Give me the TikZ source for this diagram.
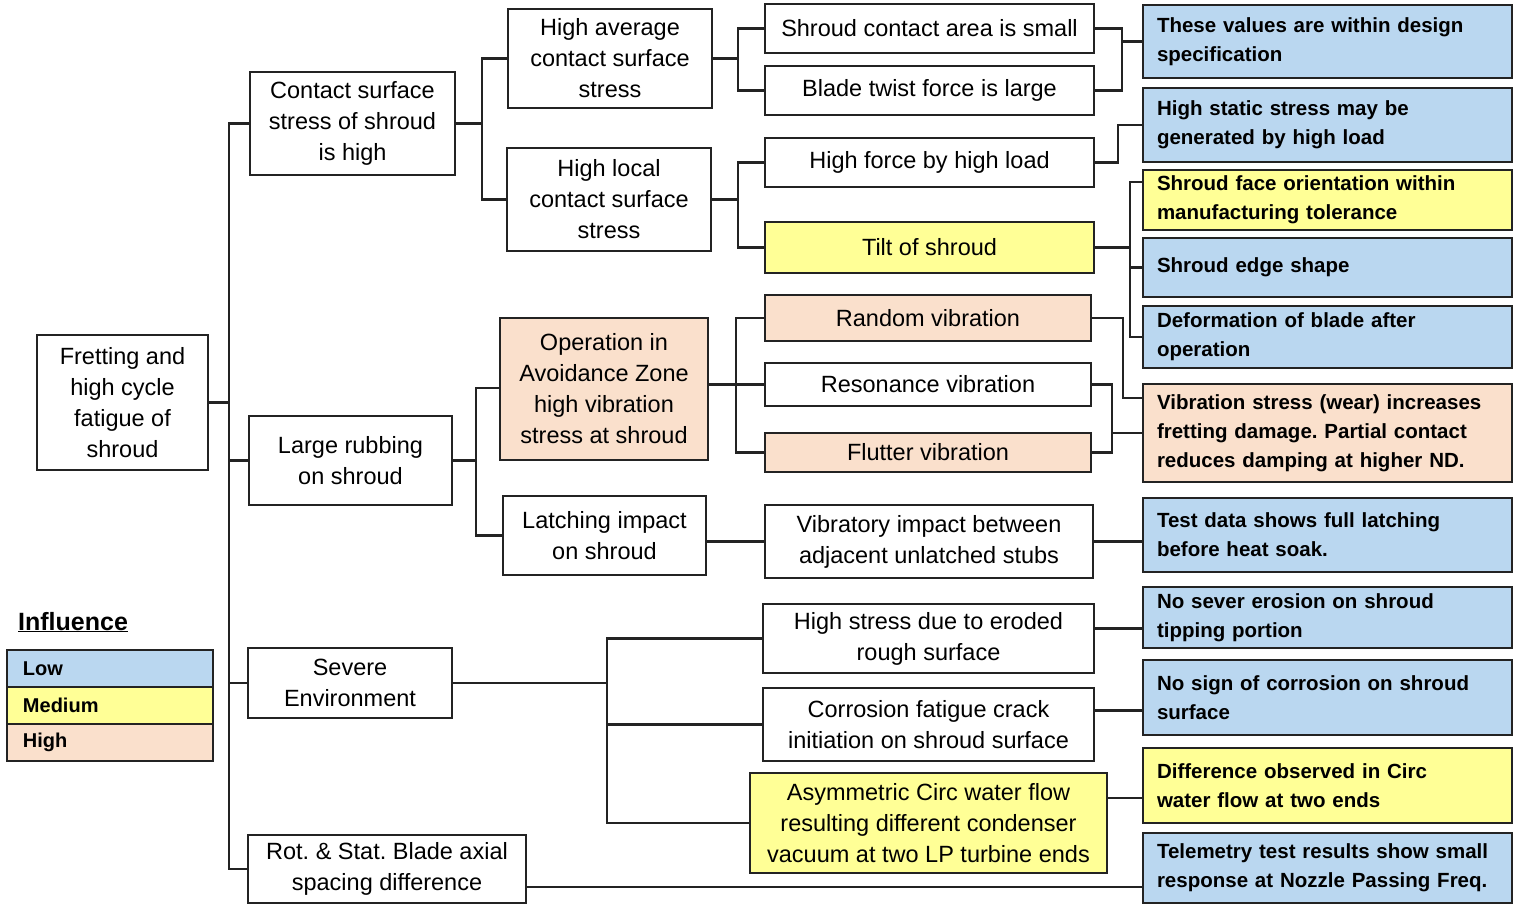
\documentclass[tikz,border=0pt]{standalone}
\usepackage{fontspec}
\setmainfont{Liberation Sans}
\frenchspacing
\definecolor{lowc}{RGB}{186,215,240}
\definecolor{medc}{RGB}{255,255,150}
\definecolor{highc}{RGB}{250,224,204}
\definecolor{linec}{RGB}{35,35,35}
\tikzset{
  box/.style={draw=linec, line width=2.4pt, inner sep=0pt, outer sep=0pt, align=center,
    font=\fontsize{23.5}{31}\selectfont, fill=white},
  rbox/.style={draw=linec, line width=2.4pt, inner xsep=14pt, inner ysep=0pt, outer sep=0pt,
    text width=341pt, align=left, font=\bfseries\fontsize{20.5}{29}\selectfont,
    minimum width=369pt},
  lbox/.style={draw=linec, line width=2.4pt, inner xsep=16pt, inner ysep=0pt, outer sep=0pt,
    text width=174pt, align=left, font=\bfseries\fontsize{20}{24}\selectfont,
    minimum width=206pt, minimum height=37pt},
  conn/.style={draw=linec, line width=2.2pt},
}
\begin{document}
\begin{tikzpicture}[x=1pt, y=-1pt]
\useasboundingbox[fill=white] (0,0) rectangle (1518,905);

% column 1
\node[box, minimum width=171, minimum height=135] (fr) at (122.5,402.5) {Fretting and\\high cycle\\fatigue of\\shroud};

% column 2
\node[box, minimum width=205, minimum height=103] (cs) at (352.5,123.5) {Contact surface\\stress of shroud\\is high};
\node[box, minimum width=203, minimum height=89] (lr) at (350.5,460.5) {Large rubbing\\on shroud};
\node[box, minimum width=204, minimum height=70] (se) at (350,683) {Severe\\Environment};
\node[box, minimum width=278, minimum height=68] (rs) at (387,869) {Rot. \& Stat. Blade axial\\spacing difference};

% column 3
\node[box, minimum width=204, minimum height=99] (ha) at (610,58.5) {High average\\contact surface\\stress};
\node[box, minimum width=204, minimum height=103] (hl) at (609,199.5) {High local\\contact surface\\stress};
\node[box, fill=highc, minimum width=208, minimum height=142] (op) at (604,389) {Operation in\\Avoidance Zone\\high vibration\\stress at shroud};
\node[box, minimum width=203, minimum height=79] (li) at (604.5,535.5) {Latching impact\\on shroud};

% column 4
\node[box, minimum width=329, minimum height=49] (sca) at (929.5,28.5) {Shroud contact area is small};
\node[box, minimum width=329, minimum height=49] (bt) at (929.5,90.5) {Blade twist force is large};
\node[box, minimum width=329, minimum height=49] (hf) at (929.5,162.5) {High force by high load};
\node[box, fill=medc, minimum width=329, minimum height=51] (ti) at (929.5,247.5) {Tilt of shroud};
\node[box, fill=highc, minimum width=326, minimum height=46] (rv) at (928,318) {Random vibration};
\node[box, minimum width=326, minimum height=43] (rsv) at (928,384.5) {Resonance vibration};
\node[box, fill=highc, minimum width=326, minimum height=39] (fv) at (928,452.5) {Flutter vibration};
\node[box, minimum width=328, minimum height=73] (vi) at (929,541.5) {Vibratory impact between\\adjacent unlatched stubs};
\node[box, minimum width=331, minimum height=69] (hs) at (928.5,638.5) {High stress due to eroded\\rough surface};
\node[box, minimum width=331, minimum height=73] (cf) at (928.5,724.5) {Corrosion fatigue crack\\initiation on shroud surface};
\node[box, fill=medc, minimum width=357, minimum height=100] (as) at (928.5,823) {Asymmetric Circ water flow\\resulting different condenser\\vacuum at two LP turbine ends};

% column 5
\node[rbox, fill=lowc, minimum height=73] (c1) at (1327.5,41.5) {These values are within design\\specification};
\node[rbox, fill=lowc, minimum height=74] (c2) at (1327.5,125) {High static stress may be\\generated by high load};
\node[rbox, fill=medc, minimum height=60] (c3) at (1327.5,200) {Shroud face orientation within\\manufacturing tolerance};
\node[rbox, fill=lowc, minimum height=59] (c4) at (1327.5,267.5) {Shroud edge shape};
\node[rbox, fill=lowc, minimum height=62] (c5) at (1327.5,337) {Deformation of blade after\\operation};
\node[rbox, fill=highc, minimum height=98] (c6) at (1327.5,433) {Vibration stress (wear) increases\\fretting damage. Partial contact\\reduces damping at higher ND.};
\node[rbox, fill=lowc, minimum height=74] (c7) at (1327.5,535) {Test data shows full latching\\before heat soak.};
\node[rbox, fill=lowc, minimum height=61] (c8) at (1327.5,617.5) {No sever erosion on shroud\\tipping portion};
\node[rbox, fill=lowc, minimum height=75] (c9) at (1327.5,697.5) {No sign of corrosion on shroud\\surface};
\node[rbox, fill=medc, minimum height=75] (c10) at (1327.5,785.5) {Difference observed in Circ\\water flow at two ends};
\node[rbox, fill=lowc, minimum height=70] (c11) at (1327.5,868) {Telemetry test results show small\\response at Nozzle Passing Freq.};

% legend
\node[anchor=base west, inner sep=0pt, font=\bfseries\fontsize{25}{30}\selectfont] (inf) at (18,630) {\underline{Influence}};
\node[lbox, fill=lowc] (lo) at (110,668.5) {Low};
\node[lbox, fill=medc] (me) at (110,705.5) {Medium};
\node[lbox, fill=highc] (hi) at (110,742.5) {High};

% bracket coordinates
\coordinate (t1) at (229,0);
\coordinate (b2) at (482,0);
\coordinate (b2r) at (476,0);
\coordinate (b3) at (607,0);
\coordinate (b4a) at (738,0);
\coordinate (b4b) at (736,0);
\coordinate (b5) at (1122,0);
\coordinate (b6) at (1118,0);
\coordinate (b7) at (1130,0);
\coordinate (b8) at (1123,0);
\coordinate (b9) at (1112,0);

% column 1 -> 2
\draw[conn] (fr.east) -- (fr.east -| t1);
\draw[conn] (cs.west) -- (cs.west -| t1) -- (rs.west -| t1) -- (rs.west);
\draw[conn] (lr.west -| t1) -- (lr.west);
\draw[conn] (se.west -| t1) -- (se.west);

% column 2 -> 3
\draw[conn] (cs.east) -- (cs.east -| b2);
\draw[conn] (ha.west) -- (ha.west -| b2) -- (hl.west -| b2) -- (hl.west);
\draw[conn] (lr.east) -- (lr.east -| b2r);
\draw[conn] ([yshift=1pt]op.west) -- ([yshift=1pt]op.west -| b2r) -- (li.west -| b2r) -- (li.west);
\draw[conn] (se.east) -- (se.east -| b3);
\draw[conn] (hs.west) -- (hs.west -| b3) -- (as.west -| b3) -- (as.west);
\draw[conn] (cf.west -| b3) -- (cf.west);
\draw[conn] ([yshift=-18pt]rs.east) -- ([yshift=-18pt]rs.east -| c11.west);

% column 3 -> 4
\draw[conn] (ha.east) -- (ha.east -| b4a);
\draw[conn] (sca.west) -- (sca.west -| b4a) -- (bt.west -| b4a) -- (bt.west);
\draw[conn] (hl.east) -- (hl.east -| b4a);
\draw[conn] (hf.west) -- (hf.west -| b4a) -- (ti.west -| b4a) -- (ti.west);
\draw[conn] (op.east |- rsv.west) -- (rsv.west);
\draw[conn] (rv.west) -- (rv.west -| b4b) -- (fv.west -| b4b) -- (fv.west);
\draw[conn] (li.east |- vi.west) -- (vi.west);

% column 4 -> 5
\draw[conn] (sca.east) -- (sca.east -| b5) -- (bt.east -| b5) -- (bt.east);
\draw[conn] (b5 |- c1.west) -- (c1.west);
\draw[conn] (hf.east) -- (hf.east -| b6) -- (b6 |- c2.west) -- (c2.west);
\draw[conn] (ti.east) -- (ti.east -| b7);
\draw[conn] ([yshift=18pt]c3.west) -- ([yshift=18pt]c3.west -| b7) -- (c5.west -| b7) -- (c5.west);
\draw[conn] (c4.west -| b7) -- (c4.west);
\draw[conn] (rv.east) -- (rv.east -| b8) -- ([yshift=35pt]c6.west -| b8) -- ([yshift=35pt]c6.west);
\draw[conn] (rsv.east) -- (rsv.east -| b9) -- (fv.east -| b9) -- (fv.east);
\draw[conn] (b9 |- c6.west) -- (c6.west);
\draw[conn] (vi.east) -- (vi.east -| c7.west);
\draw[conn] ([yshift=10pt]hs.east) -- ([yshift=10pt]hs.east -| c8.west);
\draw[conn] ([yshift=14pt]cf.east) -- ([yshift=14pt]cf.east -| c9.west);
\draw[conn] ([yshift=25pt]as.east) -- ([yshift=25pt]as.east -| c10.west);
\end{tikzpicture}
\end{document}
